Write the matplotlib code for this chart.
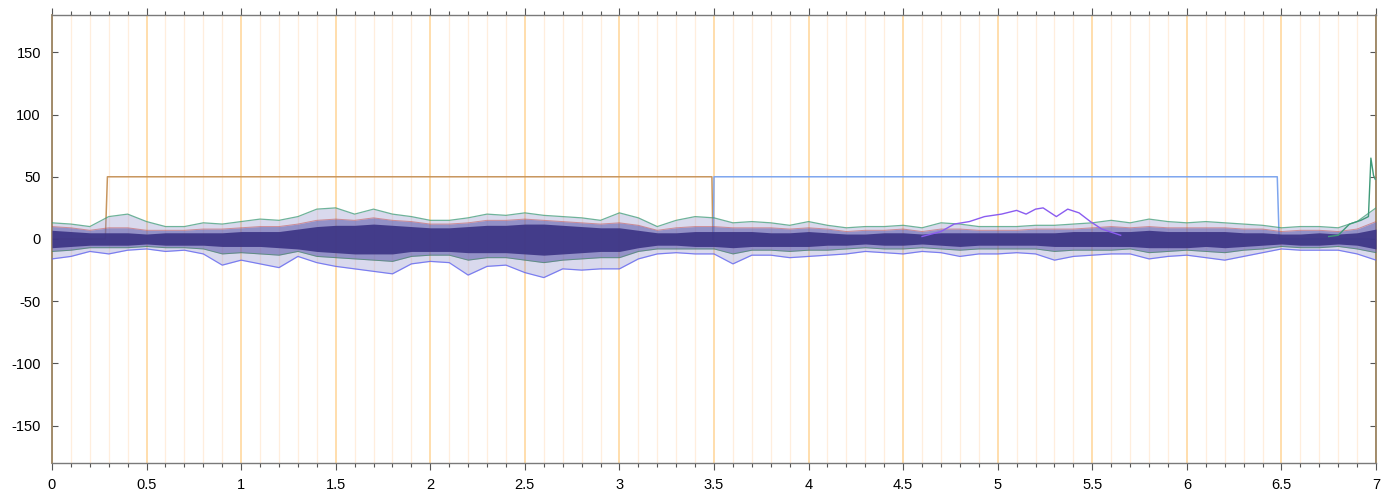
import numpy as np
import matplotlib
matplotlib.use("Agg")
import matplotlib.pyplot as plt
from matplotlib.ticker import MultipleLocator

plt.rcParams['font.family'] = ['Liberation Sans', 'DejaVu Sans']

# ---- data ----
# envelope sample times: every 0.1 s from 0 to 7
env_t = [round(0.1 * i, 1) for i in range(71)]

# outermost extent of the trace bundle (upper / lower)
outer_hi = [13, 12, 10, 18, 20, 14, 10, 10, 13, 12,
            14, 16, 15, 18, 24, 25, 20, 24, 20, 18,
            15, 15, 17, 20, 19, 21, 19, 18, 17, 15,
            21, 17, 10, 15, 18, 17, 13, 14, 13, 11,
            14, 11, 9, 10, 10, 11, 9, 13, 12, 10,
            10, 10, 11, 11, 12, 13, 15, 13, 16, 14,
            13, 14, 13, 12, 11, 9, 10, 10, 9, 14,
            25]
outer_lo = [-16, -14, -10, -12, -9, -8, -10, -9, -12, -21,
            -17, -20, -23, -14, -19, -22, -24, -26, -28, -20,
            -18, -19, -29, -22, -21, -27, -31, -24, -25, -24,
            -24, -16, -12, -11, -12, -12, -20, -13, -13, -15,
            -14, -13, -12, -10, -11, -12, -10, -11, -14, -12,
            -12, -11, -12, -17, -14, -13, -12, -12, -16, -14,
            -13, -15, -17, -14, -11, -8, -9, -9, -9, -12,
            -17]

# busy middle layer of the bundle (upper / lower)
mid_hi = [10, 9, 7, 9, 9, 7, 7, 7, 8, 8,
          9, 10, 10, 12, 15, 16, 15, 17, 15, 14,
          12, 12, 13, 15, 15, 16, 15, 14, 13, 12,
          13, 11, 7, 9, 10, 10, 9, 9, 9, 8,
          9, 8, 6, 7, 7, 8, 6, 8, 8, 7,
          7, 7, 8, 8, 8, 9, 10, 9, 10, 9,
          9, 9, 9, 8, 8, 6, 7, 7, 6, 8,
          14]
mid_lo = [-10, -9, -7, -7, -7, -6, -7, -7, -8, -12,
          -11, -12, -13, -10, -14, -15, -16, -17, -18, -14,
          -13, -13, -17, -15, -15, -17, -19, -17, -16, -15,
          -15, -10, -8, -8, -8, -8, -12, -9, -9, -10,
          -9, -9, -8, -7, -8, -8, -7, -8, -9, -8,
          -8, -8, -8, -10, -9, -9, -9, -8, -11, -10,
          -9, -10, -11, -9, -8, -6, -7, -7, -6, -8,
          -11]

# dense core of the bundle (upper / lower)
core_hi = [7, 6, 5, 5, 5, 4, 5, 5, 5, 5,
           6, 6, 6, 8, 10, 11, 11, 12, 11, 10,
           9, 9, 10, 11, 11, 12, 12, 11, 10, 9,
           9, 7, 5, 5, 6, 6, 6, 6, 5, 5,
           6, 5, 4, 4, 5, 5, 4, 5, 5, 5,
           5, 5, 5, 5, 6, 6, 6, 6, 7, 6,
           6, 6, 6, 5, 5, 4, 4, 5, 4, 5,
           8]
core_lo = [-7, -6, -5, -5, -5, -4, -5, -5, -5, -6,
           -6, -6, -7, -8, -10, -11, -12, -12, -12, -10,
           -10, -10, -11, -11, -11, -12, -13, -12, -11, -10,
           -10, -7, -5, -5, -6, -6, -7, -6, -6, -6,
           -6, -5, -5, -4, -5, -5, -4, -5, -6, -5,
           -5, -5, -5, -6, -6, -6, -6, -6, -7, -7,
           -7, -6, -7, -6, -5, -4, -5, -5, -4, -5,
           -8]

# outlier traces
purple_t = [4.6, 4.7, 4.77, 4.85, 4.93, 5.02, 5.1, 5.15, 5.2, 5.24,
            5.31, 5.37, 5.43, 5.49, 5.55, 5.65]
purple_v = [2, 6, 12, 14, 18, 20, 23, 20, 24, 25,
            18, 24, 21, 14, 8, 3]
spike_t = [6.75, 6.8, 6.86, 6.92, 6.96, 6.973, 6.987, 6.996]
spike_v = [2, 3, 12, 15, 18, 65, 51, 48]

# stimulus markers
brown_t = [0.0, 0.282, 0.293, 3.489, 3.494]
brown_v = [0, 0, 50, 50, 0]
blue_t = [3.494, 3.497, 3.50, 6.478, 6.488, 7.0]
blue_v = [0, 0, 50, 50, 0, 0]

x_range = [0, 7]
y_range = [-180, 180]
y_ticks = [-150, -100, -50, 0, 50, 100, 150]
x_ticks = [0, 0.5, 1, 1.5, 2, 2.5, 3, 3.5, 4, 4.5, 5, 5.5, 6, 6.5, 7]
x_labels = ["0", "0.5", "1", "1.5", "2", "2.5", "3", "3.5", "4", "4.5",
            "5", "5.5", "6", "6.5", "7"]

# ---- figure ----
fig = plt.figure(figsize=(14, 5), dpi=100)
ax = fig.add_axes([52 / 1400, 1 - 463 / 500, (1376 - 52) / 1400, (463 - 15) / 500])

# vertical grid
for i in range(71):
    xv = round(0.1 * i, 1)
    if i % 5 == 0:
        ax.axvline(xv, color='#FFD596', lw=1.1, zorder=0)
    else:
        ax.axvline(xv, color='#FFEEDD', lw=0.9, zorder=0)

# markers (drawn beneath the traces)
ax.plot(brown_t, brown_v, color='#C8965E', lw=1.1, zorder=1)
ax.plot(blue_t, blue_v, color='#7FA6EE', lw=1.1, zorder=1)

# trace bundle
ax.fill_between(env_t, outer_lo, outer_hi, color='#9292cc', alpha=0.35, lw=0, zorder=2)
ax.plot(env_t, outer_hi, color='#3f9a78', lw=0.9, alpha=0.75, zorder=3)
ax.plot(env_t, outer_lo, color='#5a5ef0', lw=0.9, alpha=0.75, zorder=3)
ax.fill_between(env_t, mid_lo, mid_hi, color='#5a56a8', alpha=0.55, lw=0, zorder=4)
ax.plot(env_t, mid_hi, color='#c04040', lw=0.7, alpha=0.5, zorder=4)
ax.plot(env_t, mid_lo, color='#2a8a40', lw=0.7, alpha=0.5, zorder=4)
ax.fill_between(env_t, core_lo, core_hi, color='#3b3384', alpha=0.9, lw=0, zorder=5)
ax.plot(purple_t, purple_v, color='#8a5cf0', lw=1.0, zorder=6)
ax.plot(spike_t, spike_v, color='#3f9a78', lw=1.0, zorder=6)

ax.set_xlim(x_range)
ax.set_ylim(y_range)
ax.set_xticks(x_ticks)
ax.set_xticklabels(x_labels)
ax.set_yticks(y_ticks)
ax.set_yticklabels([str(v) for v in y_ticks])
ax.xaxis.set_minor_locator(MultipleLocator(0.1))

ax.tick_params(axis='x', which='major', direction='out', length=5, width=0.8,
               color='#555555', top=True, bottom=True, labelsize=10.5, pad=6)
ax.tick_params(axis='x', which='minor', direction='out', length=3, width=0.8,
               color='#555555', top=True, bottom=True)
ax.tick_params(axis='y', which='major', direction='in', length=4, width=0.8,
               color='#555555', left=True, right=True, labelsize=10.5, pad=8)

for s in ['top', 'bottom']:
    ax.spines[s].set_color('#7a7a7a')
    ax.spines[s].set_linewidth(1.0)
for s in ['left', 'right']:
    ax.spines[s].set_color('#9a8462')
    ax.spines[s].set_linewidth(1.3)

fig.savefig('out.png', dpi=100)
